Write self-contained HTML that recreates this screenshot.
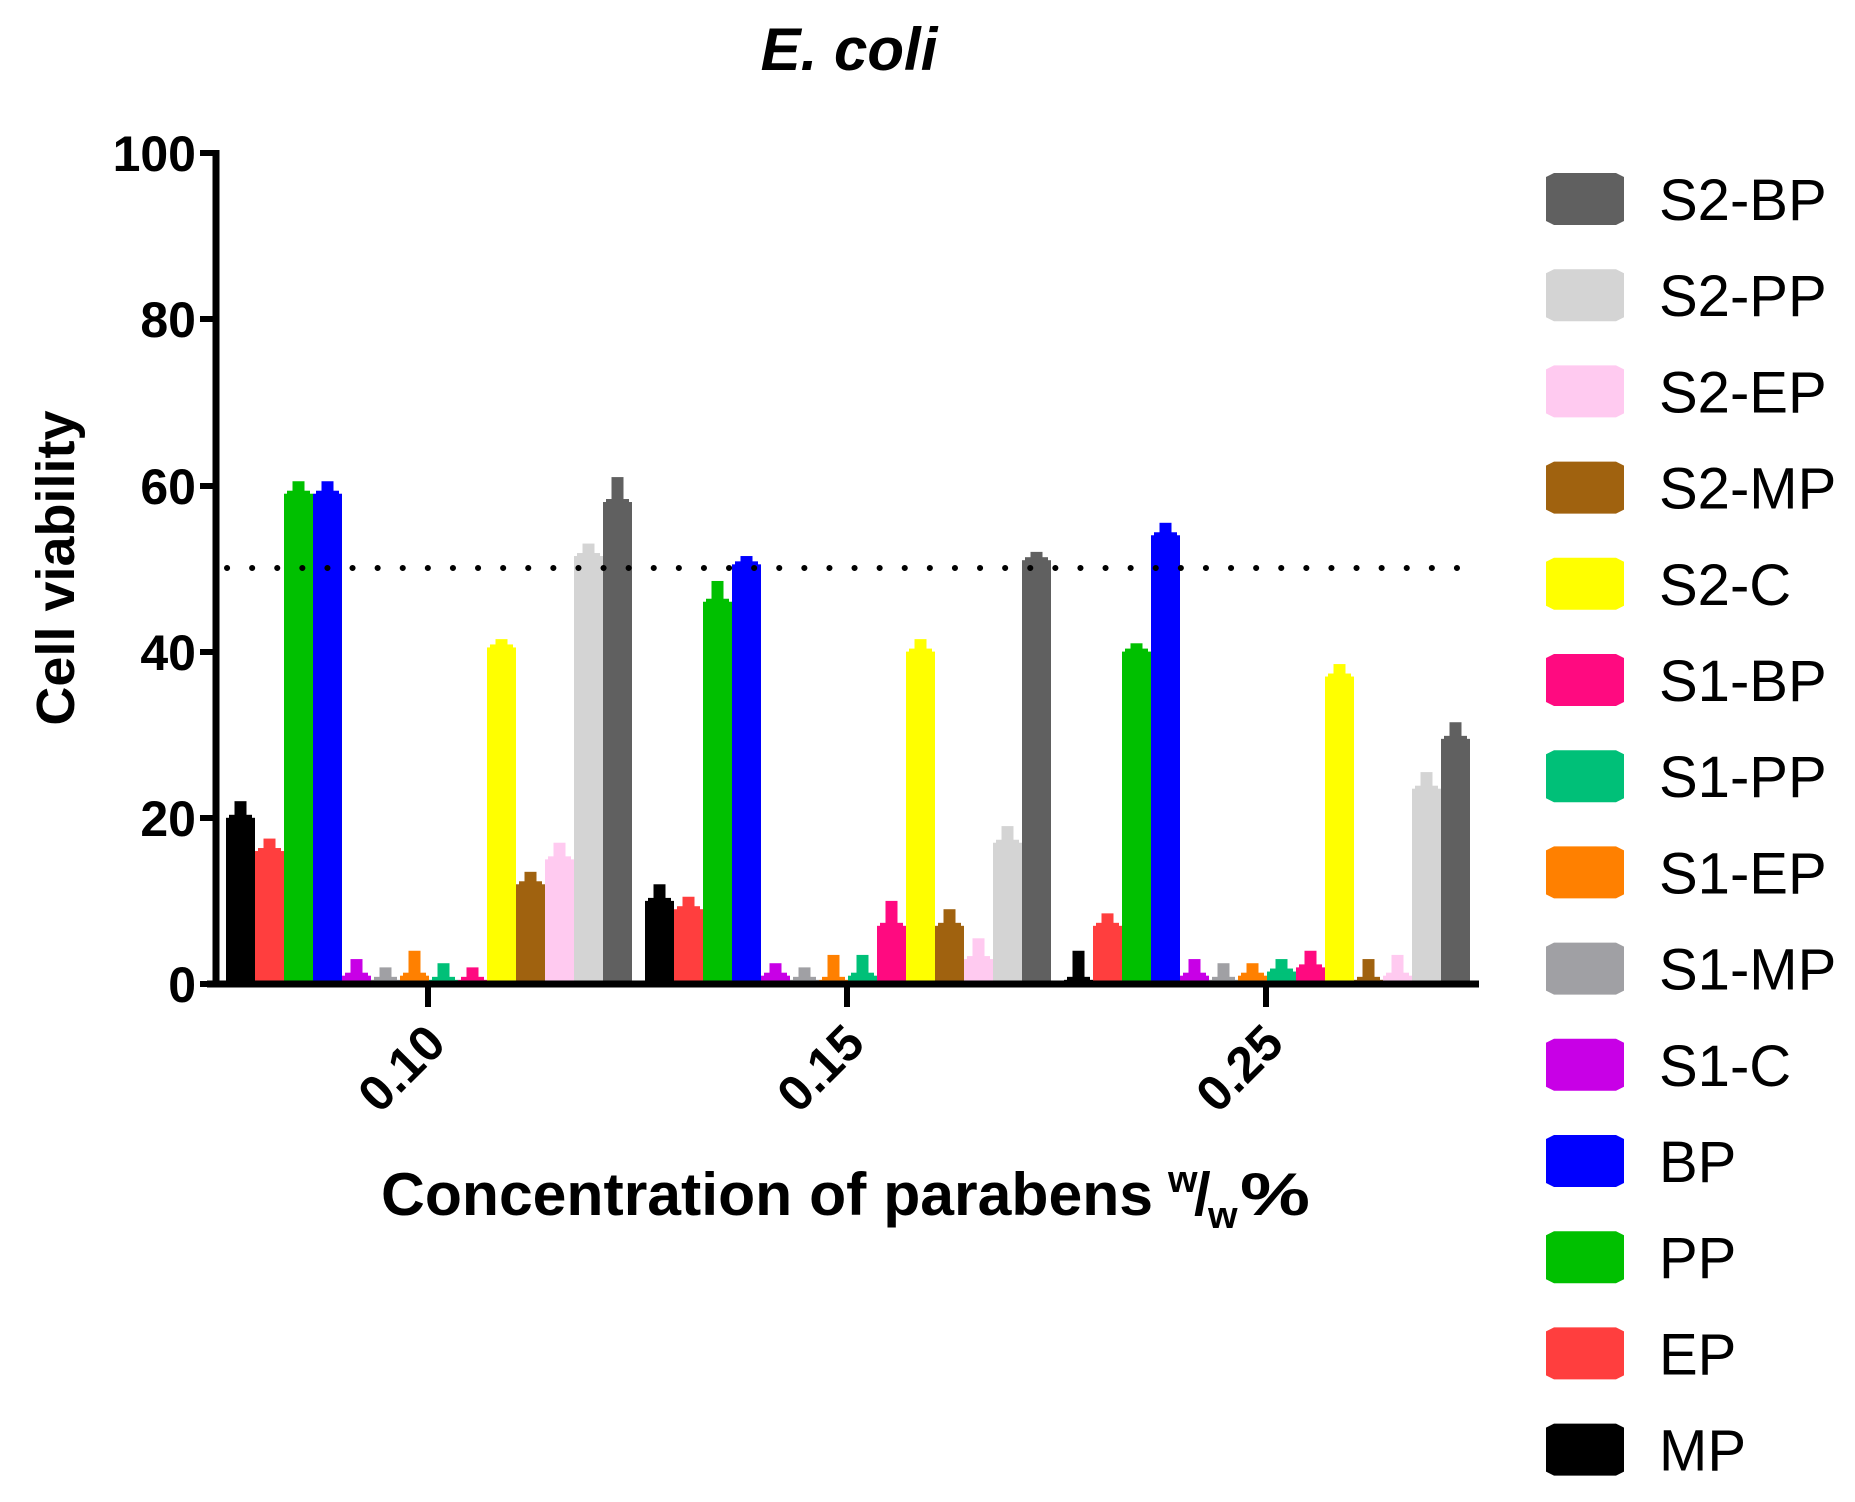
<!DOCTYPE html>
<html><head><meta charset="utf-8"><style>
html,body{margin:0;padding:0;background:#fff}
svg{display:block}
text{font-family:"Liberation Sans",Arial,sans-serif;fill:#000}
</style></head><body>
<svg id="s" width="1855" height="1502" viewBox="0 0 1855 1502" xmlns="http://www.w3.org/2000/svg">
<text x="849" y="70" font-size="60" font-weight="bold" font-style="italic" text-anchor="middle">E. coli</text>
<g id="bars"></g>
<line x1="227" y1="568" x2="1470" y2="568" stroke="#000" stroke-width="6" stroke-dasharray="0.1 25" stroke-linecap="round"/>
<line x1="216" y1="150" x2="216" y2="987" stroke="#000" stroke-width="7"/>
<line x1="207" y1="984" x2="1479" y2="984" stroke="#000" stroke-width="7"/>
<g stroke="#000" stroke-width="6">
<line x1="200" y1="153" x2="216" y2="153"/><line x1="200" y1="319" x2="216" y2="319"/>
<line x1="200" y1="486" x2="216" y2="486"/><line x1="200" y1="652" x2="216" y2="652"/>
<line x1="200" y1="818" x2="216" y2="818"/><line x1="200" y1="984" x2="216" y2="984"/>
<line x1="428" y1="984" x2="428" y2="1007"/><line x1="847" y1="984" x2="847" y2="1007"/><line x1="1266" y1="984" x2="1266" y2="1007"/>
</g>
<g font-size="50" font-weight="bold" text-anchor="end">
<text x="196" y="171">100</text><text x="196" y="337">80</text><text x="196" y="504">60</text>
<text x="196" y="670">40</text><text x="196" y="836">20</text><text x="196" y="1002">0</text>
</g>
<text transform="translate(74,568) rotate(-90)" font-size="54" font-weight="bold" text-anchor="middle">Cell viability</text>
<g font-size="50" font-weight="bold" text-anchor="end">
<text transform="translate(448,1046) rotate(-45)">0.10</text>
<text transform="translate(867,1046) rotate(-45)">0.15</text>
<text transform="translate(1286,1046) rotate(-45)">0.25</text>
</g>
<text x="381" y="1215" font-size="60" font-weight="bold" textLength="772" lengthAdjust="spacingAndGlyphs">Concentration of parabens</text>
<text x="1168" y="1192" font-size="38" font-weight="bold">w</text>
<text x="1194" y="1215" font-size="60" font-weight="bold">/</text>
<text x="1208" y="1228" font-size="38" font-weight="bold">w</text>
<text x="1240" y="1215" font-size="60" font-weight="bold" textLength="70" lengthAdjust="spacingAndGlyphs">%</text>
<g id="leg"></g>
</svg>
<script>
var cols=["#000000","#ff3e3e","#00c000","#0000ff","#c800e6","#a0a0a4","#ff8000","#00c078","#ff0a80","#ffff00","#a0620f","#ffcaf0","#d4d4d4","#606060"];
var names=["MP","EP","PP","BP","S1-C","S1-MP","S1-EP","S1-PP","S1-BP","S2-C","S2-MP","S2-EP","S2-PP","S2-BP"];
var vals=[[20,16,59,59,1,0.5,1,0.5,0.5,40.5,12,15,51.5,58],
[10,9,46,50.5,1,0.5,0.5,1,7,40,7,3,17,51],
[0.5,7,40,54,1,0.5,1,1.5,2,37,0.5,1,23.5,29.5]];
var errs=[[2,1.5,1.5,1.5,2,1.5,3,2,1.5,1,1.5,2,1.5,3],
[2,1.5,2.5,1,1.5,1.5,3,2.5,3,1.5,2,2.5,2,1],
[3.5,1.5,1,1.5,2,2,1.5,1.5,2,1.5,2.5,2.5,2,2]];
var ns="http://www.w3.org/2000/svg",g=document.getElementById("bars");
function Y(v){return 984-v*8.31;}
function r(par,x,y,w,h,c){var e=document.createElementNS(ns,"rect");e.setAttribute("x",x);e.setAttribute("y",y);e.setAttribute("width",w);e.setAttribute("height",h);e.setAttribute("fill",c);par.appendChild(e);}
var starts=[226,645,1064],bw=29;
for(var gi=0;gi<3;gi++){for(var i=0;i<14;i++){var x=starts[gi]+i*bw,v=vals[gi][i],e=errs[gi][i],c=cols[i];
var yt=Y(v);r(g,x,yt,bw,984-yt,c);
var ye=Y(v+e);r(g,x+bw/2-6,ye,12,yt-ye+2,c);
r(g,x+3,yt-3,bw-6,5,c);}}
var L=document.getElementById("leg");
var order=names.slice().reverse(),ocols=cols.slice().reverse();
for(var k=0;k<14;k++){var cy=199+96.2*k;
var p=document.createElementNS(ns,"path");
var x1=1546,x2=1624,y1=cy-26,y2=cy+26;
p.setAttribute("d","M"+(x1+8)+","+y1+"H"+(x2-8)+"L"+x2+","+(y1+4)+"V"+(y2-4)+"L"+(x2-8)+","+y2+"H"+(x1+8)+"L"+x1+","+(y2-4)+"V"+(y1+4)+"Z");
p.setAttribute("fill",ocols[k]);L.appendChild(p);
var t=document.createElementNS(ns,"text");t.setAttribute("x",1659);t.setAttribute("y",cy+21);t.setAttribute("font-size","58");t.textContent=order[k];L.appendChild(t);}
</script>
</body></html>
